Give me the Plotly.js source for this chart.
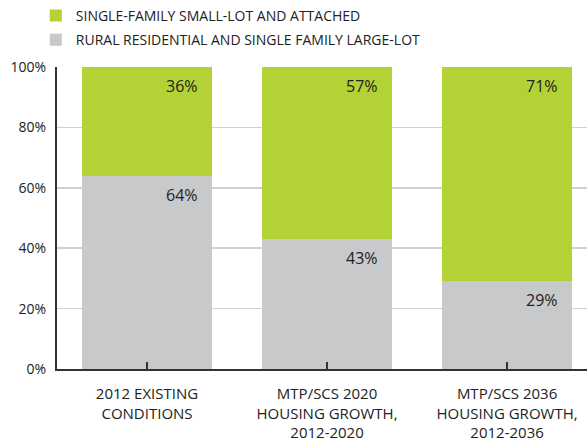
<!DOCTYPE html>
<html>
<head>
<meta charset="utf-8">
<script src="https://cdn.plot.ly/plotly-3.0.1.min.js"></script>
<style>
  html, body { margin: 0; padding: 0; background: #fff; }
  #chart { width: 587px; height: 443px; }
</style>
</head>
<body>
<div id="chart"></div>
<script>
// categories and shares (percent)
const categories = [
    '2012 EXISTING<br>CONDITIONS',
    'MTP/SCS 2020<br>HOUSING GROWTH,<br>2012-2020',
    'MTP/SCS 2036<br>HOUSING GROWTH,<br>2012-2036'
];
const ruralLargeLot = [64, 43, 29];
const smallLotAttached = [36, 57, 71];
const seriesNames = [
    'RURAL RESIDENTIAL AND SINGLE FAMILY LARGE-LOT',
    'SINGLE-FAMILY SMALL-LOT AND ATTACHED'
];
const yTicks = [0, 20, 40, 60, 80, 100];

const GREEN = '#b2d235';
const GREY = '#c8c9cb';
const FONT = 'Open Sans, Liberation Sans, sans-serif';
const xIdx = categories.map((_, i) => i);

const traces = [
    {
        type: 'bar', name: seriesNames[0], legendgroup: 'g1', legendrank: 2,
        x: xIdx, y: ruralLargeLot,
        marker: {color: GREY}, hoverinfo: 'skip'
    },
    {
        type: 'bar', name: seriesNames[1], legendgroup: 'g2', legendrank: 1,
        x: xIdx, y: smallLotAttached,
        marker: {color: GREEN}, hoverinfo: 'skip'
    }
];

// value labels, top-right inside each segment
const annotations = [];
xIdx.forEach(i => {
    annotations.push({
        xref: 'x', yref: 'y', x: i + 0.361, y: ruralLargeLot[i],
        text: ruralLargeLot[i] + '%', showarrow: false,
        xanchor: 'right', yanchor: 'top', xshift: -12, yshift: -6,
        font: {family: FONT, size: 16, color: '#222'}
    });
    annotations.push({
        xref: 'x', yref: 'y', x: i + 0.361, y: ruralLargeLot[i] + smallLotAttached[i],
        text: smallLotAttached[i] + '%', showarrow: false,
        xanchor: 'right', yanchor: 'top', xshift: -12, yshift: -6,
        font: {family: FONT, size: 16, color: '#222'}
    });
});

const layout = {
    width: 587, height: 443,
    margin: {l: 57, r: 0, t: 67, b: 74},
    paper_bgcolor: '#fff', plot_bgcolor: '#fff',
    barmode: 'stack', bargap: 0.278,
    font: {family: FONT, size: 14, color: '#222'},
    showlegend: true,
    legend: {
        orientation: 'v', traceorder: 'grouped', tracegroupgap: 3,
        x: -0.04, xanchor: 'left', y: 1.222, yanchor: 'top',
        font: {family: FONT, size: 14, color: '#222'},
        bgcolor: 'rgba(0,0,0,0)'
    },
    xaxis: {
        range: [-0.5, 2.444], fixedrange: true,
        tickmode: 'array', tickvals: xIdx, ticktext: categories,
        tickson: 'boundaries', ticks: 'inside', ticklen: 7, tickwidth: 1.5, tickcolor: '#333',
        ticklabelstandoff: 10,
        showline: true, linecolor: '#333', linewidth: 2,
        showgrid: false, zeroline: false,
        tickfont: {family: FONT, size: 15, color: '#222'}
    },
    yaxis: {
        range: [0, 100], fixedrange: true,
        tickmode: 'array', tickvals: yTicks, ticktext: yTicks.map(v => v + '%'),
        ticks: '', ticklabelstandoff: 6,
        showline: true, linecolor: '#333', linewidth: 2,
        showgrid: true, gridcolor: '#d0d0d0', gridwidth: 1.5, zeroline: false,
        tickfont: {family: FONT, size: 14, color: '#222'}
    },
    annotations: annotations
};

Plotly.newPlot('chart', traces, layout, {displayModeBar: false, staticPlot: true});
</script>
</body>
</html>
